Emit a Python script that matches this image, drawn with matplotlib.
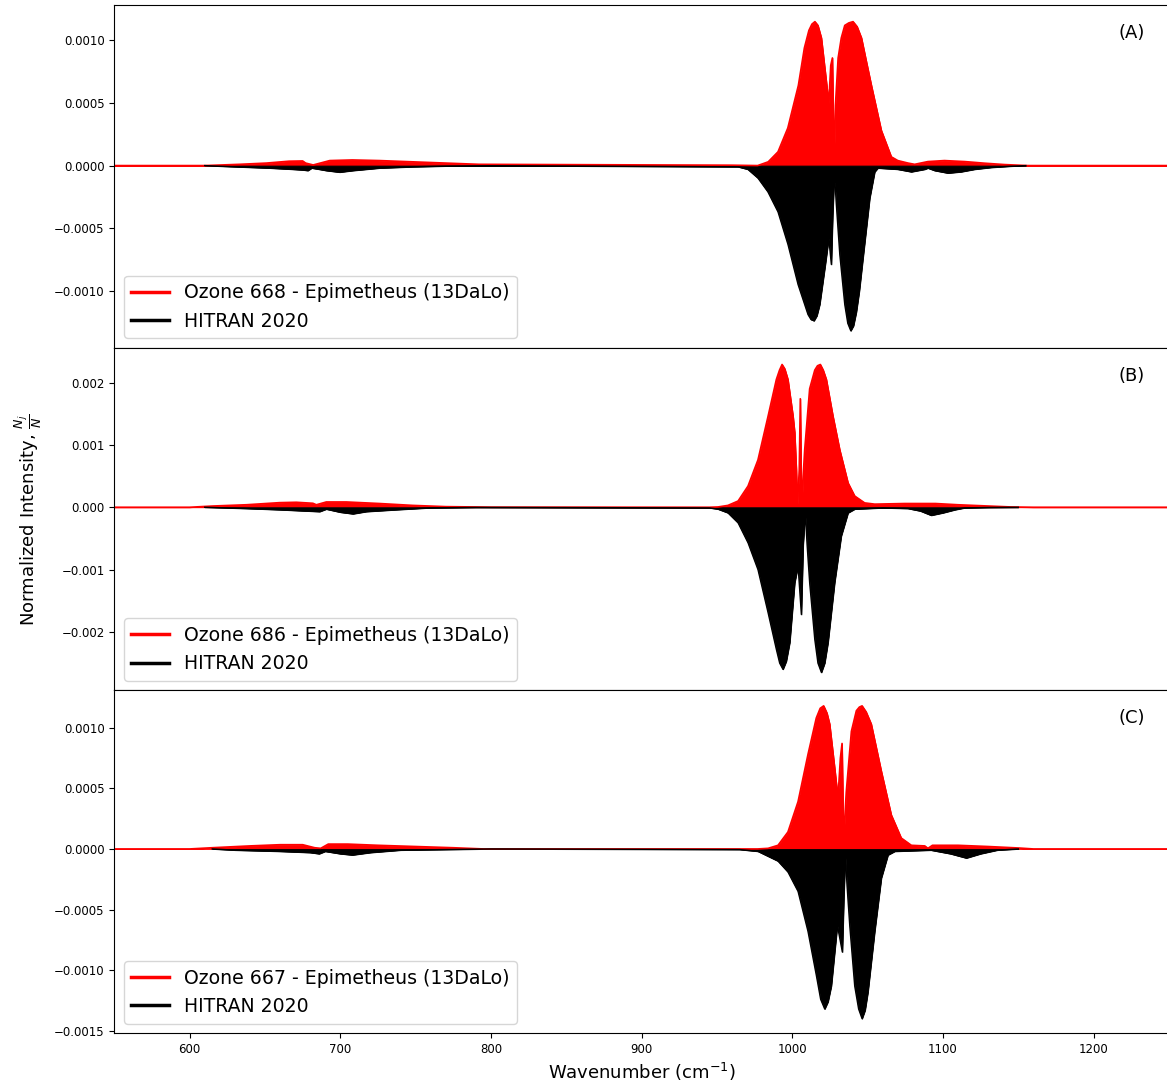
import matplotlib
matplotlib.use("Agg")
import matplotlib.pyplot as plt
from matplotlib.lines import Line2D
from matplotlib.ticker import MultipleLocator

# ------------------------------------------------------------
# Envelope of the stick spectra
# (wavenumber in cm^-1, normalized intensity)
# ------------------------------------------------------------
a_red_wn = [550, 610, 633, 651, 666, 675, 677, 682, 693, 708, 726, 748, 770, 792,
            960, 977, 984, 990.5, 997, 1004, 1008, 1011, 1013, 1015, 1017, 1019.3,
            1022.6, 1024.2, 1025.5, 1026.6, 1027.2, 1027.7, 1028.6, 1030.4, 1032.5,
            1034.8, 1037.5, 1040.3, 1043, 1045.9, 1049, 1052.5, 1059.1, 1065.7,
            1070, 1076.8, 1081.2, 1090, 1101, 1114.4, 1127.7, 1141, 1156, 1250]
a_red_val = [0, 0, 1e-5, 2e-5, 3.5e-5, 3.7e-5, 2e-5, 5e-6, 4e-5, 4.5e-5, 4e-5, 3e-5,
             2e-5, 1e-5, 3e-6, 0, 3e-5, 1.1e-4, 3e-4, 6.4e-4, 9.4e-4, 1.08e-3,
             1.13e-3, 1.15e-3, 1.12e-3, 1.02e-3, 6.7e-4, 5e-4, 8e-4, 8.6e-4, 4e-4,
             2e-5, 4.8e-4, 8.6e-4, 1.02e-3, 1.12e-3, 1.14e-3, 1.15e-3, 1.11e-3,
             1.02e-3, 8.4e-4, 6.4e-4, 2.8e-4, 7e-5, 4e-5, 2e-5, 1e-5, 3.2e-5, 4e-5,
             3.2e-5, 1.9e-5, 8e-6, 0, 0]

a_blk_wn = [610, 626.5, 653, 668.5, 675, 678.5, 681, 686, 690.7, 699.5, 708.4, 726,
            748, 770, 800, 964, 970.5, 977.2, 983.8, 990.5, 997.1, 1003.8, 1010.4,
            1012.4, 1014.4, 1016.3, 1018.2, 1021.9, 1024.2, 1025.9, 1026.8, 1027.7,
            1028.4, 1029.2, 1031.5, 1034.8, 1036.8, 1038.8, 1040.6, 1042.5, 1044.5,
            1046.9, 1051.4, 1054.7, 1056.8, 1070, 1079, 1087.9, 1090, 1094.5,
            1103.3, 1112, 1121, 1132, 1145, 1155]
a_blk_val = [0, -8e-6, -2e-5, -3e-5, -3.5e-5, -4e-5, -2e-5, -3e-5, -4e-5, -5.3e-5,
             -4e-5, -2e-5, -1e-5, -4e-6, -1e-6, -1e-5, -3e-5, -1e-4, -2.1e-4,
             -3.7e-4, -6.3e-4, -9.5e-4, -1.19e-3, -1.23e-3, -1.24e-3, -1.2e-3,
             -1.11e-3, -7.9e-4, -5.8e-4, -7.9e-4, -4e-4, -1.3e-4, -1.5e-4, -3.1e-4,
             -7.1e-4, -1.11e-3, -1.26e-3, -1.32e-3, -1.28e-3, -1.17e-3, -1.0e-3,
             -7.4e-4, -2.6e-4, -5e-5, -2e-5, -3e-5, -5e-5, -3e-5, -2e-5, -4e-5,
             -6e-5, -5e-5, -3e-5, -1.5e-5, -5e-6, 0]

b_red_wn = [550, 600, 615.5, 637.6, 659.7, 670.8, 681.8, 684.1, 690.7, 704, 726, 748,
            770, 800, 945, 950.7, 957.3, 964, 970.6, 977.2, 983.9, 989.4, 991.5,
            993.2, 995, 997.1, 1000.5, 1001.6, 1002.7, 1003.4, 1004.6, 1005.3,
            1005.9, 1006.4, 1007.2, 1008.2, 1011.5, 1014.9, 1016.7, 1018.6, 1020.5,
            1022.6, 1027, 1031.5, 1037, 1041.4, 1048, 1054.7, 1074.6, 1083.4, 1095,
            1110, 1130, 1145, 1160, 1250]
b_red_val = [0, 0, 2e-5, 4e-5, 7.4e-5, 8e-5, 6.4e-5, 4e-5, 8.5e-5, 8.5e-5, 6e-5,
             3e-5, 1e-5, 2e-6, 0, 5e-6, 3e-5, 1e-4, 3.4e-4, 7.6e-4, 1.46e-3,
             2.05e-3, 2.2e-3, 2.29e-3, 2.22e-3, 2.05e-3, 1.46e-3, 1.2e-3, 6e-4,
             3e-5, 6e-4, 1.74e-3, 5e-4, 2e-5, 5e-4, 9.2e-4, 1.9e-3, 2.2e-3, 2.27e-3,
             2.29e-3, 2.2e-3, 2.05e-3, 1.46e-3, 9.2e-4, 3.9e-4, 1.8e-4, 7e-5, 5e-5,
             6e-5, 6e-5, 6e-5, 4e-5, 2e-5, 5e-6, 0, 0]

b_blk_wn = [610, 637.6, 659.7, 677.4, 686.3, 690.7, 700, 708.4, 717.2, 737.1, 759,
            790, 945, 950.7, 957.3, 964, 970.6, 977.2, 983.9, 989.4, 991.6, 993.8,
            996, 998.3, 1001.6, 1003.8, 1006, 1007.2, 1008.6, 1009.8, 1011.5,
            1014.9, 1017, 1019.3, 1021.5, 1023.7, 1028.1, 1032.5, 1037, 1041.4,
            1060, 1076.7, 1085, 1092.2, 1100, 1108, 1114.4, 1130, 1150]
b_blk_val = [0, -2e-5, -4e-5, -6e-5, -7e-5, -3e-5, -8e-5, -1.06e-4, -7e-5, -4e-5,
             -1e-5, -2e-6, -1e-5, -3e-5, -9e-5, -2.5e-4, -5.7e-4, -1e-3, -1.69e-3,
             -2.28e-3, -2.5e-3, -2.6e-3, -2.47e-3, -2.17e-3, -1.21e-3, -9.4e-4,
             -1.72e-3, -6e-4, -9e-5, -6e-4, -1.21e-3, -2.12e-3, -2.5e-3, -2.65e-3,
             -2.5e-3, -2.17e-3, -1.21e-3, -4.6e-4, -9e-5, -3e-5, -1e-5, -2e-5,
             -6e-5, -1.3e-4, -9e-5, -4e-5, -1e-5, -3e-6, 0]

c_red_wn = [550, 600, 615, 640, 660, 675, 683, 687, 692, 705, 725, 750, 775, 795,
            977, 983.9, 990.5, 997.1, 1003.8, 1010.4, 1015.9, 1018.5, 1020.8, 1023,
            1024.8, 1028.1, 1030.3, 1031.9, 1033, 1033.6, 1034.1, 1034.8, 1035.8,
            1039.2, 1042.5, 1044.5, 1046.3, 1049, 1052.4, 1059.1, 1065.7, 1072.3,
            1079, 1087.9, 1090, 1093, 1110, 1130, 1150, 1160, 1250]
c_red_val = [0, 0, 1e-5, 2.5e-5, 3.5e-5, 3.5e-5, 1e-5, 5e-6, 4e-5, 4e-5, 3e-5, 2e-5,
             1e-5, 0, 0, 5e-6, 3e-5, 1.4e-4, 3.9e-4, 7.8e-4, 1.08e-3, 1.16e-3,
             1.18e-3, 1.12e-3, 1.03e-3, 6.7e-4, 4.2e-4, 7.5e-4, 8.7e-4, 4e-4, 3e-5,
             2.5e-4, 4.7e-4, 9.7e-4, 1.14e-3, 1.17e-3, 1.18e-3, 1.13e-3, 1.03e-3,
             6.4e-4, 2.8e-4, 9e-5, 3e-5, 2.5e-5, 5e-6, 3e-5, 3e-5, 2e-5, 8e-6, 0, 0]

c_blk_wn = [615, 630, 660, 680, 686, 690, 700, 708, 720, 740, 770, 800, 965, 977.2,
            990.5, 997.1, 1003.8, 1010.4, 1015.9, 1018.8, 1021.5, 1023.7, 1025.9,
            1029.9, 1033.2, 1034.2, 1035.2, 1036.3, 1038.1, 1041.4, 1044, 1046.3,
            1048.3, 1050.2, 1054.7, 1059.1, 1063.5, 1068, 1092, 1105, 1115.5, 1125,
            1136, 1150]
c_blk_val = [0, -1e-5, -2e-5, -3e-5, -4e-5, -2e-5, -4e-5, -5e-5, -3e-5, -1e-5,
             -5e-6, 0, -5e-6, -2e-5, -1e-4, -1.9e-4, -3.5e-4, -6.8e-4, -1.04e-3,
             -1.24e-3, -1.32e-3, -1.26e-3, -1.13e-3, -6.3e-4, -8.5e-4, -4e-4, -5e-5,
             -3e-4, -6.3e-4, -1.13e-3, -1.32e-3, -1.4e-3, -1.33e-3, -1.18e-3,
             -6.8e-4, -2.4e-4, -5e-5, -2e-5, -1e-5, -4e-5, -7.5e-5, -4e-5, -1e-5, 0]

isotopes = ["668", "686", "667"]
panel_tags = ["(A)", "(B)", "(C)"]
ylims = [(-0.001455, 0.001283), (-0.002937, 0.00256), (-0.001518, 0.001308)]
ysteps = [0.0005, 0.001, 0.0005]

red_series = [(a_red_wn, a_red_val), (b_red_wn, b_red_val), (c_red_wn, c_red_val)]
blk_series = [(a_blk_wn, a_blk_val), (b_blk_wn, b_blk_val), (c_blk_wn, c_blk_val)]

# ------------------------------------------------------------
# Plot
# ------------------------------------------------------------
fig = plt.figure(figsize=(11.67, 10.82), dpi=100)
left, right = 114.3 / 1167, 1169.0 / 1167
top, bottom = 1 - 5 / 1082, 1 - 1033 / 1082
h = (top - bottom) / 3

axes = []
for i in range(3):
    ax = fig.add_axes([left, top - (i + 1) * h, right - left, h])
    axes.append(ax)

for i, ax in enumerate(axes):
    rx, ry = red_series[i]
    bx, by = blk_series[i]

    ax.fill_between(rx, 0, ry, color="red", linewidth=0.6, edgecolor="red")
    ax.plot(rx, ry, color="red", linewidth=1.2)
    ax.fill_between(bx, 0, by, color="black", linewidth=0.6, edgecolor="black")
    ax.plot(bx, by, color="black", linewidth=1.0)

    ax.set_xlim(550, 1250)
    ax.set_ylim(*ylims[i])
    ax.yaxis.set_major_locator(MultipleLocator(ysteps[i]))
    ax.xaxis.set_major_locator(MultipleLocator(100))
    ax.tick_params(labelsize=8.5)
    if i < 2:
        ax.tick_params(labelbottom=False)

    ax.text(0.977, 0.918, panel_tags[i], transform=ax.transAxes,
            ha="right", va="center", fontsize=13)

    handles = [Line2D([], [], color="red", linewidth=2.5),
               Line2D([], [], color="black", linewidth=2.5)]
    labels = [f"Ozone {isotopes[i]} - Epimetheus (13DaLo)", "HITRAN 2020"]
    ax.legend(handles, labels, loc="lower left", fontsize=13.6, framealpha=0.8)

axes[2].set_xlabel("Wavenumber (cm$^{-1}$)", fontsize=13)
fig.text(0.024, 1 - 520 / 1082, r"Normalized Intensity, $\frac{N_j}{N}$",
         rotation=90, ha="center", va="center", fontsize=13)

plt.savefig("out.png", dpi=100)
